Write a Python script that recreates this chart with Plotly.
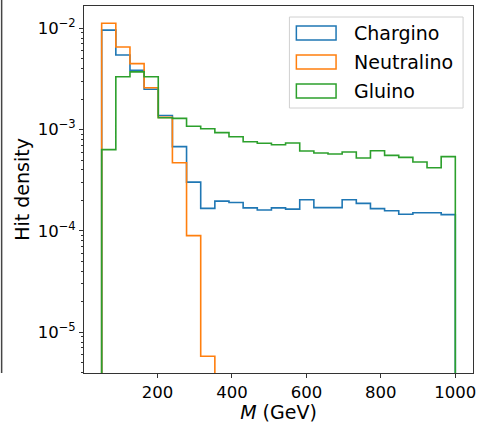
import numpy as np
import plotly.graph_objects as go

# ---- data ----
bin_edges = np.linspace(50, 1000, 26)  # 25 bins, width 38 GeV
chargino = [0.0096, 0.00545, 0.00385, 0.0025, 0.00138, 0.00068, 0.000303, 0.000167,
            0.000197, 0.000191, 0.000169, 0.000161, 0.000169, 0.000164, 0.000203,
            0.00017, 0.00017, 0.000203, 0.000187, 0.000166, 0.000158, 0.000146,
            0.000151, 0.000151, 0.000145]
neutralino = [0.0112, 0.00653, 0.00448, 0.00259, 0.00132, 0.000471, 9.0e-5, 5.8e-6,
              0, 0, 0, 0, 0, 0, 0, 0, 0, 0, 0, 0, 0, 0, 0, 0, 0]
gluino = [0.000634, 0.00333, 0.00371, 0.00333, 0.00131, 0.00129, 0.00108, 0.00102,
          0.000933, 0.000851, 0.00076, 0.000733, 0.00071, 0.000738, 0.000615,
          0.000588, 0.000574, 0.000601, 0.000525, 0.000619, 0.000557, 0.000532,
          0.000479, 0.000421, 0.000541]
series_names = ["Chargino", "Neutralino", "Gluino"]
series_values = [chargino, neutralino, gluino]
colors = ["#1f77b4", "#ff7f0e", "#2ca02c"]
x_ticks = [200, 400, 600, 800, 1000]
y_decades = [-5, -4, -3, -2]

W, H = 477, 423
L, R, T, B = 84, 1, 6, 50
pw, ph = W - L - R, H - T - B

def px(x):
    return (x - L) / pw

def py(y):
    return (H - B - y) / ph

FLOOR = 1e-12
fig = go.Figure()
for name, vals, col in zip(series_names, series_values, colors):
    v = np.maximum(np.asarray(vals, dtype=float), FLOOR)
    xs = np.concatenate([[bin_edges[0]], bin_edges, [bin_edges[-1]]])
    ys = np.concatenate([[FLOOR], v, [v[-1]], [FLOOR]])
    fig.add_trace(go.Scatter(x=xs, y=ys, mode="lines", name=name,
                             line=dict(color=col, width=1.6, shape="hv"),
                             showlegend=False, hoverinfo="skip"))

minor_vals = [m * 10.0 ** d for d in range(-6, -1) for m in range(2, 10)]

fig.update_layout(
    width=W, height=H,
    margin=dict(l=L, r=R, t=T, b=B),
    paper_bgcolor="white", plot_bgcolor="white",
    font=dict(family="DejaVu Sans", size=16, color="black"),
    xaxis=dict(range=[2.5, 1047.5], tickvals=x_ticks, ticks="outside", ticklen=4,
               tickcolor="#333333", showline=True, mirror=True, linecolor="#333333",
               linewidth=1, showgrid=False, zeroline=False,
               ticklabeloverflow="allow",
               tickfont=dict(size=16.5),
               title=dict(text="<i>M</i> (GeV)", font=dict(size=19), standoff=0)),
    yaxis=dict(type="log", range=[-5.402, -1.780],
               tickvals=[10.0 ** d for d in y_decades],
               ticktext=["10<sup>\u2212%d</sup>" % (-d) for d in y_decades],
               ticks="outside", ticklen=4, tickcolor="#333333",
               minor=dict(tickvals=minor_vals, ticks="outside", ticklen=2,
                          tickcolor="#333333", showgrid=False),
               showline=True, mirror=True, linecolor="#333333", linewidth=1,
               showgrid=False, zeroline=False, tickfont=dict(size=16.5),
               ticklabeloverflow="allow",
               title=dict(text="Hit density", font=dict(size=19), standoff=3)),
)

# legend (matplotlib-style, upper right)
shapes = []
shapes.append(dict(type="rect", xref="paper", yref="paper",
                   x0=px(291), x1=px(466), y0=py(108), y1=py(17),
                   line=dict(color="#d0d0d0", width=1), fillcolor="rgba(255,255,255,0.8)"))
row_y = [33, 62, 91]
for name, col, yc in zip(series_names, colors, row_y):
    shapes.append(dict(type="rect", xref="paper", yref="paper",
                       x0=px(298), x1=px(338), y0=py(yc + 7), y1=py(yc - 7),
                       line=dict(color=col, width=1.5), fillcolor="rgba(0,0,0,0)"))
    fig.add_annotation(xref="paper", yref="paper", x=px(354), y=py(yc),
                       text=name, showarrow=False, xanchor="left", yanchor="middle",
                       font=dict(size=19, color="black"))
# cropped neighbour frame edge at far left
shapes.append(dict(type="line", xref="paper", yref="paper",
                   x0=px(1), x1=px(1), y0=py(373), y1=py(0),
                   line=dict(color="#444444", width=1.5)))
fig.update_layout(shapes=shapes)

fig.write_html("out.html")
